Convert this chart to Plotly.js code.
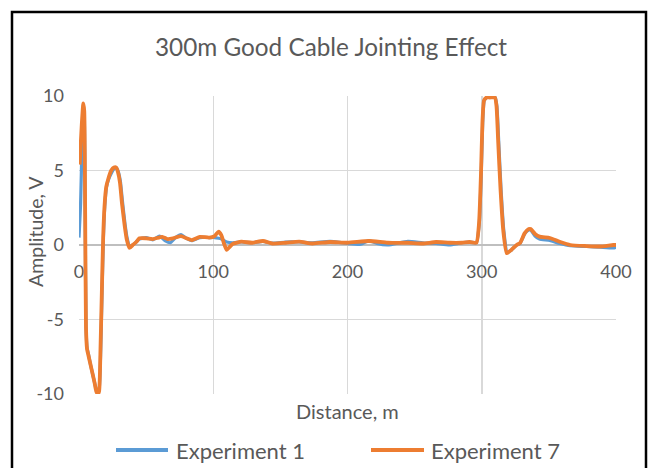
<!DOCTYPE html>
<html>
<head>
<meta charset="utf-8">
<script src="https://cdn.plot.ly/plotly-3.0.1.min.js"></script>
<style>html,body{margin:0;padding:0;background:#fff;}#chart{width:651px;height:468px;}</style>
</head>
<body>
<div id="chart"></div>
<script>
// Experiment 1 (blue)
var dist1 = [
  0, 1.2, 2.3, 3.2, 3.9, 4.6, 5.2, 6.0, 7.0, 8.5,
  10, 11.5, 12.8, 14.0, 15.0, 16.2, 17.2, 18.2, 19.2, 20.5,
  22, 24, 26, 27.7, 29, 30.8, 32.3, 34.3, 35.8, 37.8,
  40, 42.6, 45, 50, 55, 60, 64, 68, 72, 76,
  80, 84, 90, 97, 101, 104, 106, 108, 110, 114.5,
  121, 129, 137, 144, 154, 164, 174, 187, 200, 210,
  216, 222, 230, 245, 256, 266, 276, 285, 291, 296,
  298.2, 299.7, 300.7, 301.9, 303.8, 306, 310, 311.3, 312.6, 314.4,
  316.4, 319, 322, 326, 328.5, 332, 335, 336.5, 339.7, 343,
  350.7, 358, 366, 378, 388, 398, 400
];
var amp1 = [
  0.5, 2.8, 7.0, 9.3, 8.8, 2.0, -5.3, -6.9, -7.3, -8.0,
  -8.6, -9.2, -9.7, -9.9, -9.7, -7.0, -3.0, 0.5, 2.6, 3.9,
  4.4, 4.8, 5.1, 5.2, 5.0, 4.3, 3.0, 1.4, 0.5, -0.1,
  0.0, 0.2, 0.4, 0.5, 0.35, 0.6, 0.3, 0.15, 0.5, 0.7,
  0.45, 0.3, 0.5, 0.5, 0.5, 0.45, 0.4, 0.3, 0.2, 0.15,
  0.2, 0.15, 0.25, 0.12, 0.2, 0.2, 0.15, 0.25, 0.1, 0.05,
  0.3, 0.1, 0.0, 0.25, 0.15, 0.1, 0.0, 0.15, 0.2, 0.15,
  1.5, 5.0, 8.2, 9.7, 9.9, 9.9, 9.9, 9.3, 7.0, 3.7,
  1.0, -0.5, -0.35, 0.0, 0.1, 0.75, 1.0, 1.0, 0.6, 0.4,
  0.3, 0.1, -0.05, -0.1, -0.15, -0.2, -0.15
];
// Experiment 7 (orange)
var dist7 = [
  0.5, 2.0, 3.2, 3.9, 4.6, 5.2, 6.0, 7.0, 8.5, 10,
  11.5, 12.8, 14.0, 15.0, 16.0, 17.0, 18.0, 19.0, 20.3, 22,
  24, 26, 27.7, 29, 30.5, 32, 34, 35.5, 37.6, 40,
  42.6, 45, 50, 55, 62, 66, 70, 76, 80, 84,
  90, 97, 101, 104, 106, 108, 110, 114.5, 121, 129,
  137, 144, 154, 164, 174, 187, 200, 216, 230, 245,
  256, 266, 276, 285, 291, 296, 298, 299.5, 300.5, 301.7,
  303.6, 306, 309.8, 311, 312.2, 314, 316, 318.6, 322, 326,
  328.5, 332, 335, 336.5, 339.7, 343, 350.7, 358, 366, 378,
  388, 398, 400
];
var amp7 = [
  5.4, 8.0, 9.5, 9.0, 2.0, -5.5, -7.0, -7.4, -8.0, -8.6,
  -9.2, -9.8, -10.0, -9.8, -7.0, -3.2, 0.5, 2.6, 3.9, 4.5,
  5.0, 5.2, 5.2, 4.9, 4.2, 2.8, 1.3, 0.4, -0.2, 0.0,
  0.2, 0.45, 0.45, 0.4, 0.55, 0.4, 0.45, 0.6, 0.45, 0.33,
  0.55, 0.5, 0.6, 0.9, 0.67, 0.1, -0.33, 0.07, 0.22, 0.15,
  0.27, 0.1, 0.15, 0.22, 0.1, 0.2, 0.15, 0.27, 0.15, 0.15,
  0.1, 0.2, 0.15, 0.15, 0.2, 0.15, 1.5, 5.0, 8.2, 9.7,
  9.9, 9.9, 9.9, 9.3, 7.0, 3.7, 1.0, -0.55, -0.33, 0.0,
  0.13, 0.8, 1.07, 1.07, 0.74, 0.56, 0.47, 0.22, 0.0, -0.07,
  -0.1, 0.0, 0.0
];
var seriesNames = ["Experiment 1", "Experiment 7"];
var xTicks = [0, 100, 200, 300, 400];
var yTicks = [-10, -5, 0, 5, 10];

var FONT = "Lato, 'Open Sans', sans-serif";
var GREY = "#595959";
var BLUE = "#5b9bd5", ORANGE = "#ed7d31";

// pixel helpers for paper coordinates (plot area 79..616 x, 96..394 y)
var L = 79, R = 616, T = 96, B = 394;
function px(x){ return (x - L) / (R - L); }
function py(y){ return (B - y) / (B - T); }

var traces = [
  {x: dist1, y: amp1, name: seriesNames[0], type: "scatter", mode: "lines",
   line: {color: BLUE, width: 3.2, shape: "spline", smoothing: 0.5}, showlegend: false},
  {x: dist7, y: amp7, name: seriesNames[1], type: "scatter", mode: "lines",
   line: {color: ORANGE, width: 3.8, shape: "spline", smoothing: 0.5}, showlegend: false}
];

var layout = {
  width: 651, height: 468,
  margin: {l: L, r: 651 - R, t: T, b: 468 - B, pad: 0},
  paper_bgcolor: "#ffffff", plot_bgcolor: "#ffffff",
  font: {family: FONT, color: GREY},
  title: {text: "300m Good Cable Jointing Effect", font: {family: FONT, size: 24.3, color: GREY},
          xref: "container", yref: "container",
          x: 331/651, xanchor: "center", y: 1 - 47/468, yanchor: "middle"},
  xaxis: {range: [0, 400], tickvals: xTicks, ticktext: xTicks.map(String),
          showgrid: true, gridcolor: "#d9d9d9", gridwidth: 1.5, zeroline: false, showline: false,
          anchor: "free", position: 0.5, ticks: "", ticklabelstandoff: 14,
          tickfont: {family: FONT, size: 18, color: GREY}, layer: "below traces", fixedrange: true},
  yaxis: {range: [-10, 10], tickvals: yTicks, ticktext: yTicks.map(String),
          showgrid: true, gridcolor: "#d9d9d9", gridwidth: 1.5,
          zeroline: true, zerolinecolor: "#bfbfbf", zerolinewidth: 2.5, showline: false,
          ticks: "", ticklabelstandoff: 14,
          tickfont: {family: FONT, size: 18, color: GREY}, layer: "below traces", fixedrange: true},
  shapes: [
    {type: "rect", xref: "paper", yref: "paper", x0: px(12), x1: px(646), y0: py(12), y1: py(490),
     line: {color: "#000000", width: 2.5}, fillcolor: "rgba(0,0,0,0)", layer: "above"},
    {type: "line", xref: "paper", yref: "paper", x0: px(116), x1: px(168), y0: py(450), y1: py(450),
     line: {color: BLUE, width: 4}},
    {type: "line", xref: "paper", yref: "paper", x0: px(371), x1: px(424), y0: py(450), y1: py(450),
     line: {color: ORANGE, width: 4}}
  ],
  annotations: [
    {text: "Amplitude, V", xref: "paper", yref: "paper", x: px(35), y: py(232), textangle: -90,
     showarrow: false, xanchor: "center", yanchor: "middle", font: {family: FONT, size: 19.5, color: GREY}},
    {text: "Distance, m", xref: "paper", yref: "paper", x: px(347), y: py(411),
     showarrow: false, xanchor: "center", yanchor: "middle", font: {family: FONT, size: 20, color: GREY}},
    {text: seriesNames[0], xref: "paper", yref: "paper", x: px(174), y: py(450),
     showarrow: false, xanchor: "left", yanchor: "middle", font: {family: FONT, size: 22, color: GREY}},
    {text: seriesNames[1], xref: "paper", yref: "paper", x: px(429), y: py(450),
     showarrow: false, xanchor: "left", yanchor: "middle", font: {family: FONT, size: 22, color: GREY}}
  ]
};

Plotly.newPlot("chart", traces, layout, {displayModeBar: false, staticPlot: true});
</script>
</body>
</html>
